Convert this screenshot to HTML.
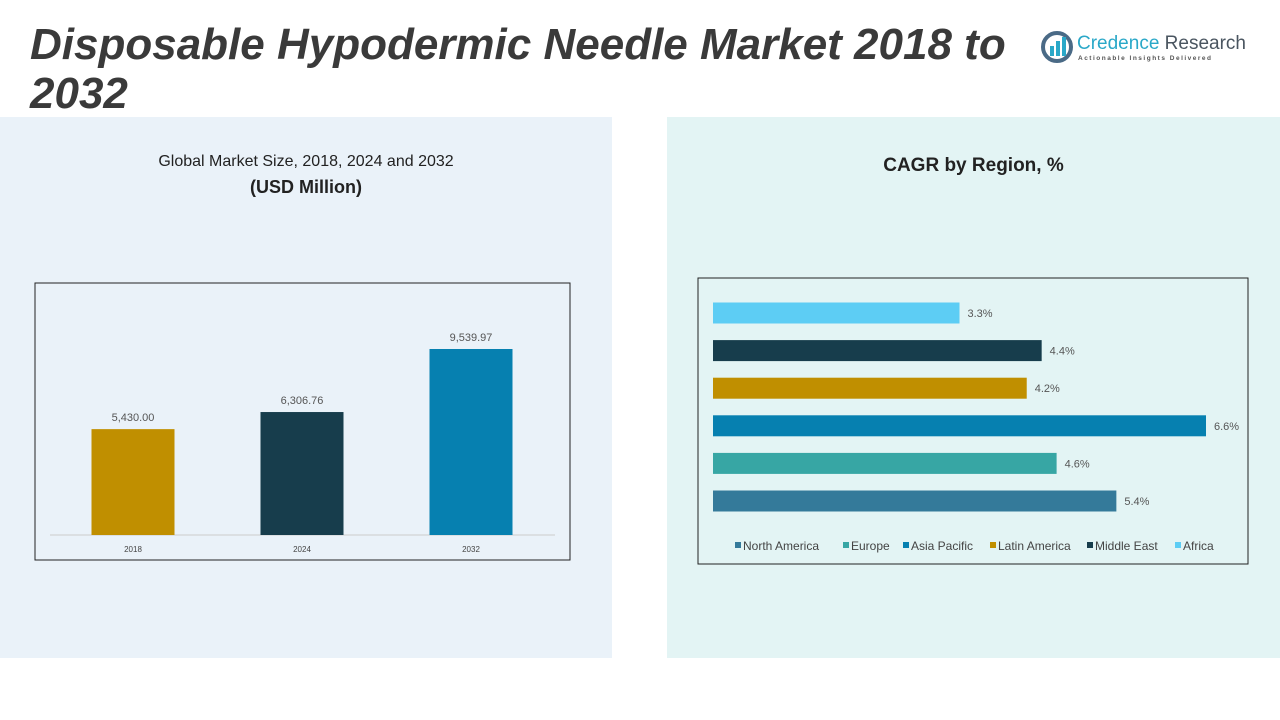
<!DOCTYPE html>
<html><head><meta charset="utf-8"><style>
body{margin:0;width:1280px;height:720px;position:relative;background:#fff;font-family:"Liberation Sans",sans-serif;overflow:hidden}
div{position:absolute}
</style></head><body>
<div style="left:0;top:117px;width:612px;height:541px;background:#eaf2f9"></div>
<div style="left:667px;top:117px;width:613px;height:541px;background:#e3f4f4"></div>
<div style="left:30px;top:20px;width:1000px;font-size:44px;font-weight:bold;font-style:italic;color:#3a3a3a;line-height:49px">Disposable Hypodermic Needle Market 2018 to 2032</div>
<div style="left:1040px;top:30px;width:220px;height:40px">
<svg width="36" height="36" style="position:absolute;left:0;top:0"><circle cx="17" cy="17" r="14" fill="none" stroke="#4a6a86" stroke-width="4"/><rect x="10" y="16" width="4" height="10" fill="#2aa8c8"/><rect x="16" y="11" width="4" height="15" fill="#2aa8c8"/><rect x="22" y="7" width="4" height="19" fill="#2aa8c8"/></svg>
<div style="left:37px;top:3px;font-size:19px;color:#2aa8c8;white-space:nowrap">Credence <span style="color:#4a5560">Research</span></div>
<div style="left:38px;top:25px;font-size:6.5px;letter-spacing:1.5px;color:#555;white-space:nowrap;font-weight:bold">Actionable Insights Delivered</div>
</div>
<div style="left:0;top:153px;width:612px;text-align:center;font-size:16px;color:#222">Global Market Size, 2018, 2024 and 2032</div>
<div style="left:0;top:177px;width:612px;text-align:center;font-size:18px;font-weight:bold;color:#222">(USD Million)</div>
<div style="left:667px;top:155px;width:613px;text-align:center;font-size:19px;font-weight:bold;color:#222">CAGR by Region, %</div>
<svg style="position:absolute;left:0;top:0" width="640" height="720" id="c1"></svg>
<svg style="position:absolute;left:0;top:0" width="1280" height="720" id="c2"></svg>
<script>
const years=["2018","2024","2032"];
const sizes=[5430.00,6306.76,9539.97];
const sizeLabels=["5,430.00","6,306.76","9,539.97"];
const regions=["North America","Europe","Asia Pacific","Latin America","Middle East","Africa"];
const cagr=[5.4,4.6,6.6,4.2,4.4,3.3];
const cagrLabels=["5.4%","4.6%","6.6%","4.2%","4.4%","3.3%"];
const colors=["#347a9a","#37a6a4","#0680b0","#c08f00","#173d4c","#5dcdf4"];
const yearColors=["#c08f00","#173d4c","#0680b0"];
const NS="http://www.w3.org/2000/svg";
function mk(svg,t,a,txt){const e=document.createElementNS(NS,t);for(const k in a)e.setAttribute(k,a[k]);if(txt!==undefined)e.textContent=txt;svg.appendChild(e);return e;}
const s1=document.getElementById('c1');
let b=mk(s1,'rect',{x:35,y:283,width:535,height:277,fill:'none',stroke:'#222','stroke-width':1});


const base=535,yS=v=>base-v*186/9539.97,xC=i=>133+i*169;
let ax=mk(s1,'line',{x1:50,x2:555,y1:base,y2:base,stroke:'#ccc'});


years.forEach((y,i)=>{
 const r=mk(s1,'rect',{x:xC(i)-41.5,y:yS(sizes[i]),width:83,height:base-yS(sizes[i]),fill:yearColors[i]});
 
 
 const t=mk(s1,'text',{x:xC(i),y:yS(sizes[i])-8,'text-anchor':'middle','font-size':11,fill:'#555'},sizeLabels[i]);
 
 
 const l=mk(s1,'text',{x:xC(i),y:552,'text-anchor':'middle','font-size':8,fill:'#444'},y);
 
 
});
const s2=document.getElementById('c2');
let f=mk(s2,'rect',{x:698,y:278,width:550,height:286,fill:'none',stroke:'#222','stroke-width':1});


const x0=713,xS=v=>x0+v*493/6.6,yc=i=>501-i*37.6;
regions.forEach((r,i)=>{
 const e=mk(s2,'rect',{x:x0,y:yc(i)-10.5,width:xS(cagr[i])-x0,height:21,fill:colors[i]});
 
 
 const t=mk(s2,'text',{x:xS(cagr[i])+8,y:yc(i)+4,'font-size':11,fill:'#555'},cagrLabels[i]);
 
 
});
const lx=[735,843,903,990,1087,1175];
regions.forEach((r,i)=>{
 const g=mk(s2,'g',{});
 
 
 mk(g,'rect',{x:lx[i],y:542,width:6,height:6,fill:colors[i]});
 mk(g,'text',{x:lx[i]+8,y:550,'font-size':12,fill:'#444'},r);
});
</script>
</body></html>
